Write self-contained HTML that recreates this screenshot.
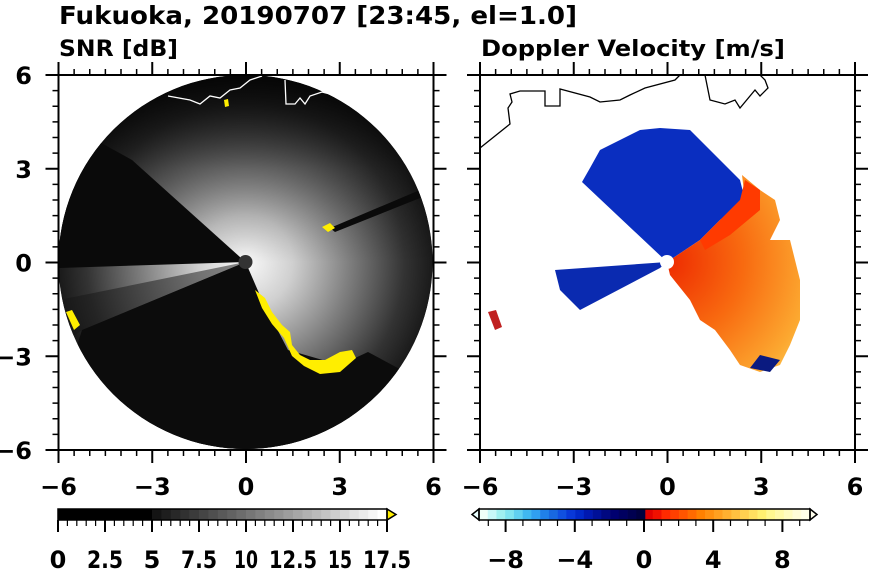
<!DOCTYPE html>
<html><head><meta charset="utf-8"><style>
html,body{margin:0;padding:0;background:#fff;width:870px;height:570px;overflow:hidden}
text{font-family:"DejaVu Sans","Liberation Sans",sans-serif;font-weight:bold;fill:#000}
</style></head><body>
<svg id="s" width="870" height="570" viewBox="0 0 870 570" xmlns="http://www.w3.org/2000/svg">
<defs>
<radialGradient id="g1" cx="245.5" cy="262" r="187" gradientUnits="userSpaceOnUse">
<stop offset="0" stop-color="#fafafa"/><stop offset="0.25" stop-color="#d0d0d0"/><stop offset="0.55" stop-color="#808080"/><stop offset="0.85" stop-color="#333"/><stop offset="1" stop-color="#1a1a1a"/>
</radialGradient>
<linearGradient id="gt" x1="0" y1="75" x2="0" y2="262" gradientUnits="userSpaceOnUse">
<stop offset="0" stop-color="#000" stop-opacity="0.8"/><stop offset="0.5" stop-color="#000" stop-opacity="0.3"/><stop offset="1" stop-color="#000" stop-opacity="0"/>
</linearGradient>
<radialGradient id="g2" cx="667" cy="262" r="190" gradientUnits="userSpaceOnUse">
<stop offset="0" stop-color="#ee2a00"/><stop offset="0.4" stop-color="#f86a10"/><stop offset="0.75" stop-color="#fca830"/><stop offset="1" stop-color="#ffe070"/>
</radialGradient>
<clipPath id="c1"><circle cx="245.5" cy="262" r="187"/></clipPath>
</defs>
<text x="59" y="24" font-size="25" textLength="518" lengthAdjust="spacingAndGlyphs">Fukuoka, 20190707 [23:45, el=1.0]</text>
<text x="59" y="56" font-size="22" textLength="119" lengthAdjust="spacingAndGlyphs">SNR [dB]</text>
<text x="481" y="56" font-size="22" textLength="304" lengthAdjust="spacingAndGlyphs">Doppler Velocity [m/s]</text>

<circle cx="245.5" cy="262" r="187" fill="#111"/>
<g clip-path="url(#c1)">
<circle cx="245.5" cy="262" r="187" fill="url(#g1)"/>
<rect x="50" y="70" width="400" height="200" fill="url(#gt)"/>
<polygon points="245.5,262 132,160 -50,60 -50,268 59,268" fill="#0a0a0a"/>
<polygon points="245.5,262 59,300 40,360 82,330" fill="#151515" opacity="0.5"/>
<polygon points="245.5,262 82,330 60,400 200,500 400,480 420,380 368,352 340,365 288,350 262,300" fill="#0c0c0c"/>
<polygon points="330,228 420,190 425,196 335,232" fill="#0a0a0a"/>
</g>
<polygon points="255,290 265,298 272,312 282,325 290,332 292,345 300,355 310,360 325,360 340,352 352,350 356,358 340,372 320,374 304,366 292,356 284,338 272,324 262,308" fill="#ffee00"/>
<polygon points="322,227 330,223 335,228 328,232" fill="#ffee00"/>
<polygon points="66,312 72,310 80,325 74,330" fill="#ffee00"/>
<polygon points="224,100 228,99 229,106 225,107" fill="#ffee00"/>
<circle cx="245.5" cy="262" r="7" fill="#333"/>
<polyline points="168,96 190,100 200,104 210,96 220,98 230,90 240,88 250,80 262,76" fill="none" stroke="#fff" stroke-width="1.3"/>
<polyline points="285,80 286,104 295,104 300,98 305,104 310,96 322,92 330,94" fill="none" stroke="#fff" stroke-width="1.3"/>

<polyline points="480,148 510,124 508,108 512,102 510,94 520,91 545,91 545,106 560,106 560,89 590,97 600,102 620,100 630,95 645,88 675,80 680,75" fill="none" stroke="#000" stroke-width="1.3"/>
<polyline points="705,75 710,100 725,104 735,100 740,108 755,90 760,96 768,88 765,80 760,75" fill="none" stroke="#000" stroke-width="1.3"/>
<polygon points="667,262 582,182 590,168 600,150 620,140 640,130 660,128 690,130 710,150 730,170 740,180 745,200 720,220 700,240" fill="#0a2ec0"/>
<polygon points="667,262 700,240 720,220 745,200 742,175 760,190 775,200 780,220 770,240 790,240 800,280 800,320 790,345 780,365 760,372 740,365 730,350 715,330 700,320 690,300 670,275" fill="url(#g2)"/>
<polygon points="700,240 720,220 740,200 745,180 760,190 760,210 730,235 705,250" fill="#ff3a00"/>
<polygon points="760,355 780,360 770,372 750,368" fill="#0a1a80"/>
<polygon points="667,262 555,270 560,290 580,310 660,268" fill="#0a2ab0"/>
<polygon points="488,312 496,310 502,327 495,330" fill="#c02020"/>
<circle cx="667" cy="262" r="7" fill="#fff"/>

<g id="ax" stroke="#000" stroke-width="2" fill="none"></g>
<g id="lab" font-size="24"></g>
<g id="cb1"></g><g id="cb2"></g>
</svg>
<script>
(function(){
const NS="http://www.w3.org/2000/svg";
const ax=document.getElementById('ax'),lab=document.getElementById('lab');
function ln(p,x1,y1,x2,y2,w){const l=document.createElementNS(NS,'line');l.setAttribute('x1',x1);l.setAttribute('y1',y1);l.setAttribute('x2',x2);l.setAttribute('y2',y2);if(w)l.setAttribute('stroke-width',w);p.appendChild(l);return l;}
function tx(p,x,y,s,a,fs){const t=document.createElementNS(NS,'text');t.setAttribute('x',x);t.setAttribute('y',y);t.setAttribute('text-anchor',a||'middle');if(fs)t.setAttribute('font-size',fs);t.textContent=s;p.appendChild(t);return t;}
function rect(p,x,y,w,h,f){const r=document.createElementNS(NS,'rect');r.setAttribute('x',x);r.setAttribute('y',y);r.setAttribute('width',w);r.setAttribute('height',h);r.setAttribute('fill',f);p.appendChild(r);return r;}
function poly(p,pts,f){const t=document.createElementNS(NS,'polygon');t.setAttribute('points',pts);t.setAttribute('fill',f);t.setAttribute('stroke','#000');t.setAttribute('stroke-width','1.5');p.appendChild(t);}
const T=75,B=450;
[[58.5,433.5],[480,855]].forEach(function(pr,pi){
  const L=pr[0],R=pr[1];const sc=(R-L)/12;
  ln(ax,L,T,R,T);ln(ax,L,B,R,B);ln(ax,L,T,L,B);ln(ax,R,T,R,B);
  for(let i=0;i<=24;i++){
    const maj=i%6==0;const len=maj?13:6;const x=L+i*sc/2;const y=T+i*(B-T)/24;
    ln(ax,x,T,x,T-len,maj?2:1.5);ln(ax,x,B,x,B+len,maj?2:1.5);
    ln(ax,L,y,L-len,y,maj?2:1.5);ln(ax,R,y,R+len,y,maj?2:1.5);
    if(maj){const v=-6+i/2;
      tx(lab,x,495,(v<0?'\u2212':'')+Math.abs(v));
      if(pi==0){const w=6-i/2;tx(lab,32,y+9,(w<0?'\u2212':'')+Math.abs(w),'end');}
    }
  }
});
const c1=document.getElementById('cb1');
const u1=(387-58)/17.5;
rect(c1,58,509,5*u1,11,'#000');
for(let k=0;k<25;k++){const v=5+k*0.5;const g=Math.round(20+k*(235/24));rect(c1,58+v*u1,509,0.5*u1+0.3,11,'rgb('+g+','+g+','+g+')');}
poly(c1,'387,509 396,514.5 387,520','#ffee00');
const o1=rect(c1,58,509,329,11,'none');o1.setAttribute('stroke','#000');o1.setAttribute('stroke-width','1.5');
const g1=document.createElementNS(NS,'g');g1.setAttribute('stroke','#000');c1.appendChild(g1);
for(let k=0;k<=35;k++){const x=58+k*0.5*u1;const maj=k%5==0;ln(g1,x,520,x,maj?532:526,maj?2:1.2);}
['0','2.5','5','7.5','10','12.5','15','17.5'].forEach(function(s,i){const t=tx(c1,58+i*2.5*u1,568,s,'middle',24);if(s.length>1)t.setAttribute('textLength',s.length*12);t.setAttribute('lengthAdjust','spacingAndGlyphs');});
const c2=document.getElementById('cb2');
const z=644,u2=17.3;
const cols=['#f0fff8','#c8f8f8','#a0f0f0','#80e4f0','#60d0f0','#40b8f0','#30a0f0','#2080e8','#1868e0','#1050e0','#0838d8','#0028c8','#0018b0','#001098','#000880','#000070','#000060','#000050','#000040'];
const wc=['#e00000','#f01000','#ff2a00','#ff4000','#ff5500','#ff6a00','#ff8000','#ff9010','#ffa020','#ffb030','#ffc040','#ffd050','#ffe060','#fff070','#fff890','#fffaa8','#fffcc0','#fffdd8','#ffffe8'];
const nw=19,sw=(810-644)/nw;
for(let k=0;k<nw;k++){rect(c2,479+k*sw,509,sw+0.3,11,cols[k]);rect(c2,644+k*sw,509,sw+0.3,11,wc[k]);}
poly(c2,'479,509 472,514.5 479,520','#eaffff');
poly(c2,'810,509 817,514.5 810,520','#ffffee');
const o2=rect(c2,479,509,331,11,'none');o2.setAttribute('stroke','#000');o2.setAttribute('stroke-width','1.5');
const g2=document.createElementNS(NS,'g');g2.setAttribute('stroke','#000');c2.appendChild(g2);
for(let k=-9;k<=9;k++){const x=z+k*u2;const maj=k%4==0;ln(g2,x,520,x,maj?532:526,maj?2:1.2);}
[-8,-4,0,4,8].forEach(function(v){tx(c2,z+v*u2,568,(v<0?'\u2212':'')+Math.abs(v),'middle',24);});
})();
</script>
</body></html>
